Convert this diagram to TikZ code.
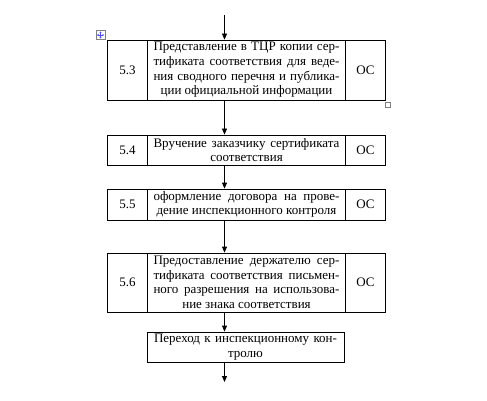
\documentclass[tikz,border=0pt]{standalone}
\usepackage{fontspec}
\setmainfont{Liberation Serif}
\usetikzlibrary{arrows.meta}
\newcommand{\jline}[2][186pt]{\makebox[#1][s]{#2}}
\begin{document}
\begin{tikzpicture}[x=1pt,y=-1pt,
  cell/.style={draw,line width=0.8pt,inner sep=0pt,align=center,
    font=\fontsize{13}{14.6}\selectfont},
  numc/.style={cell,minimum width=40pt},
  txtc/.style={cell,minimum width=198pt},
  arr/.style={line width=0.8pt,-{Triangle[length=6pt,width=5pt]}}]
\useasboundingbox (0,0) rectangle (487,401);
\coordinate (ax) at (224.5,0);
\coordinate (start) at (224.5,15);
\coordinate (finish) at (224.5,382);
% row 5.3
\node[numc,minimum height=60pt] (n53) at (127.5,70) {5.3};
\node[txtc,minimum height=60pt] (t53) at (246.5,70) {\jline{Представление в ТЦР копии сер-}\\\jline{тификата соответствия для веде-}\\\jline{ния сводного перечня и публика-}\\ции официальной информации};
\node[numc,minimum height=60pt] (o53) at (365.5,70) {ОС};
% row 5.4
\node[numc,minimum height=30pt] (n54) at (127.5,150) {5.4};
\node[txtc,minimum height=30pt] (t54) at (246.5,150) {\jline{Вручение заказчику сертификата}\\соответствия};
\node[numc,minimum height=30pt] (o54) at (365.5,150) {ОС};
% row 5.5
\node[numc,minimum height=31pt] (n55) at (127.5,204.5) {5.5};
\node[txtc,minimum height=31pt] (t55) at (246.5,204.5) {\jline{оформление договора на прове-}\\дение инспекционного контроля};
\node[numc,minimum height=31pt] (o55) at (365.5,204.5) {ОС};
% row 5.6
\node[numc,minimum height=59pt] (n56) at (127.5,282.5) {5.6};
\node[txtc,minimum height=59pt] (t56) at (246.5,282.5) {\jline{Предоставление держателю сер-}\\\jline{тификата соответствия письмен-}\\\jline{ного разрешения на использова-}\\ние знака соответствия};
\node[numc,minimum height=59pt] (o56) at (365.5,282.5) {ОС};
% last
\node[cell,minimum width=197pt,minimum height=30pt] (last) at (245.5,347) {\jline[183pt]{Переход к инспекционному кон-}\\тролю};
% arrows
\draw[arr] (start) -- (t53.north -| ax);
\draw[arr] (t53.south -| ax) -- (t54.north -| ax);
\draw[arr] (t54.south -| ax) -- (t55.north -| ax);
\draw[arr] (t55.south -| ax) -- (t56.north -| ax);
\draw[arr] (t56.south -| ax) -- (last.north -| ax);
\draw[arr] (last.south -| ax) -- (finish);
% table handles
\node[draw=gray,line width=0.5pt,minimum size=9pt,inner sep=0pt] (mv) at (100.5,35) {};
\draw[blue!70,line width=0.6pt,{Triangle[length=1.5pt,width=2pt]}-{Triangle[length=1.5pt,width=2pt]}] ([xshift=-3.5pt]mv.center) -- ([xshift=3.5pt]mv.center);
\draw[blue!70,line width=0.6pt,{Triangle[length=1.5pt,width=2pt]}-{Triangle[length=1.5pt,width=2pt]}] ([yshift=-3.5pt]mv.center) -- ([yshift=3.5pt]mv.center);
\node[draw=gray,line width=0.5pt,minimum size=4.5pt,inner sep=0pt] (rs) at (387.5,105) {};
\end{tikzpicture}
\end{document}
